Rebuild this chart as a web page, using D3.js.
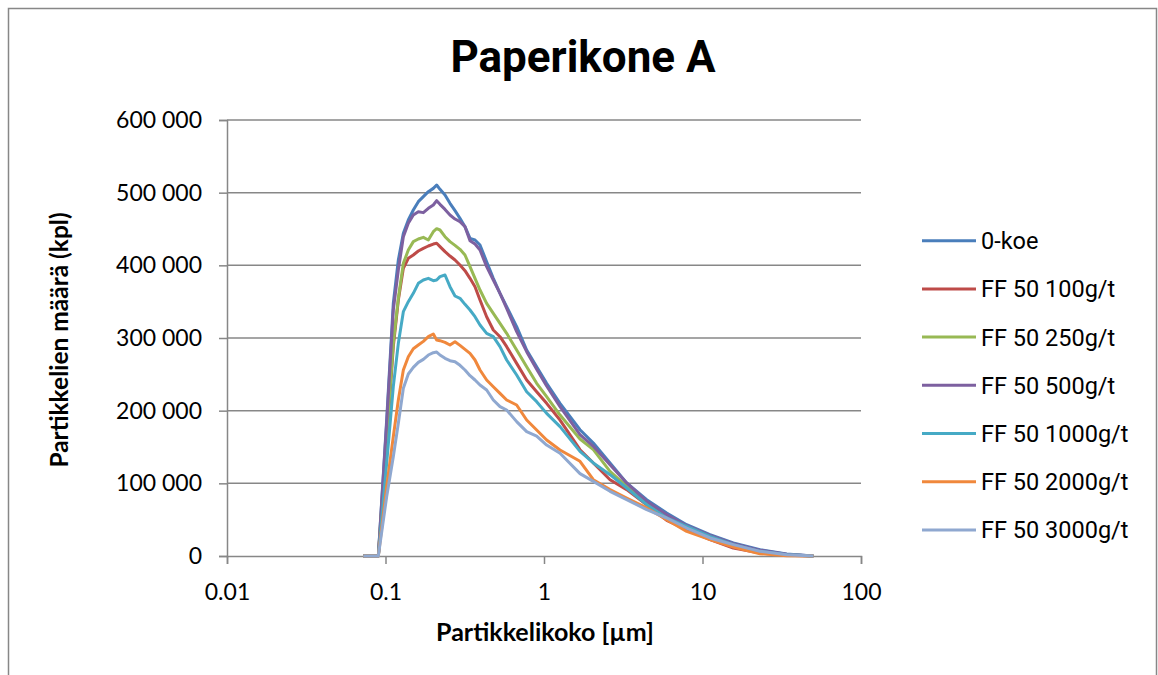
<!DOCTYPE html>
<html>
<head>
<meta charset="utf-8">
<script src="https://cdn.jsdelivr.net/npm/d3@7"></script>
<style>
  body { margin: 0; background: #fff; }
  text { fill: #000; }
</style>
</head>
<body>
<script>
// particle size (um), shared by all series
var sizes = [0.0725, 0.0901, 0.1017, 0.1120, 0.1205, 0.1296, 0.1393, 0.1498, 0.1611, 0.1733,
  0.1863, 0.2003, 0.2103, 0.2207, 0.2374, 0.2552, 0.2745, 0.2951, 0.3173, 0.3413,
  0.3670, 0.3947, 0.4346, 0.4788, 0.5277, 0.5814, 0.6722, 0.7773, 0.8989, 1.039,
  1.262, 1.687, 2.048, 2.609, 3.323, 4.444, 5.943, 7.947, 11.15, 15.65,
  23.06, 33.96, 50.04];

// counts in thousands
var koe0 = [0,0,187.1,347.7,407.3,444.0,462.4,476.1,487.6,494.5,501.4,505.9,510.5,504.6,496.8,485.3,475.2,464.7,453.2,437.1,434.9,428.0,405.0,382.1,361.5,343.1,315.6,283.5,260.5,237.6,210.1,173.8,155.5,128.0,100.5,77.5,59.2,43.1,29.4,17.9,8.7,2.8,0];
var ff100 = [0,0,155.0,288.1,352.3,395.9,409.6,414.2,419.7,423.4,426.6,429.3,430.3,425.7,418.8,412.8,407.3,400.4,392.7,382.1,370.6,352.3,329.3,311.0,301.8,288.1,265.1,242.2,226.1,210.1,187.1,146.3,128.0,105.0,91.3,70.6,49.1,36.2,22.5,11.0,4.1,0.9,0];
var ff250 = [0,0,164.2,292.7,354.6,402.7,421.1,432.6,436.2,438.5,434.9,446.3,450.4,448.6,439.4,432.6,427.5,422.0,414.2,398.2,382.1,366.0,347.7,333.9,320.2,306.4,283.5,260.5,237.6,219.3,194.0,161.0,146.3,116.5,95.9,72.9,54.6,40.8,27.1,15.6,6.4,1.8,0];
var ff500 = [0,0,182.6,338.5,393.6,439.4,457.8,469.3,473.8,472.5,478.4,483.0,489.0,483.9,477.0,469.3,463.7,460.1,453.2,433.9,429.3,421.1,398.2,379.8,361.5,340.8,308.7,281.2,256.9,233.9,205.5,167.0,150.9,125.7,100.5,75.2,56.9,41.7,28.4,17.0,7.8,2.3,0];
var ff1000 = [0,0,127.5,233.0,292.7,336.2,350.0,361.5,375.2,379.8,382.1,378.9,379.8,384.4,386.7,370.6,357.8,354.6,346.3,338.5,329.3,317.9,306.4,301.8,288.1,269.7,249.1,226.1,212.4,196.3,178.0,144.0,128.0,111.9,93.6,70.6,52.3,40.8,27.1,15.6,6.4,1.8,0];
var ff2000 = [0,0,95.4,164.2,214.7,256.0,274.3,285.3,290.4,295.4,301.8,305.5,297.2,296.3,294.0,290.4,294.9,289.9,284.4,278.9,269.7,256.0,242.2,233.0,223.8,214.7,207.8,187.1,173.4,159.6,145.9,130.3,105.0,91.3,79.8,66.1,50.0,33.9,22.5,12.4,3.2,0.5,0];
var ff3000 = [0,0,81.6,136.7,182.6,230.7,250.5,259.6,266.5,270.6,276.6,279.8,280.7,276.6,272.0,268.8,267.4,262.4,256.0,248.2,242.2,235.3,228.4,214.7,205.5,200.9,184.9,171.1,165.1,152.7,141.3,113.3,102.7,89.0,77.5,63.8,52.3,38.5,24.8,15.6,6.4,1.8,0];

var names = ["0-koe", "FF 50 100g/t", "FF 50 250g/t", "FF 50 500g/t", "FF 50 1000g/t", "FF 50 2000g/t", "FF 50 3000g/t"];
var colors = ["#4a7ebb", "#be4b48", "#98b954", "#7d60a0", "#46aac5", "#f0883c", "#8fa8d0"];
var xTicks = [0.01, 0.1, 1, 10, 100];
var yTicks = [0, 100000, 200000, 300000, 400000, 500000, 600000];

var allSeries = [koe0, ff100, ff250, ff500, ff1000, ff2000, ff3000];

var W = 1158, H = 675;
var svg = d3.select("body").append("svg").attr("width", W).attr("height", H);

// outer chart frame
svg.append("rect").attr("x", 8.5).attr("y", 8.5).attr("width", 1148).attr("height", 720)
  .attr("fill", "#fff").attr("stroke", "#878787").attr("stroke-width", 1.5);

var pLeft = 227, pRight = 861, pTop = 120, pBottom = 556;

var x = d3.scaleLog().domain([0.01, 100]).range([pLeft, pRight]);
var y = d3.scaleLinear().domain([0, 600000]).range([pBottom, pTop]);

var fmt = d3.formatLocale({decimal: ".", thousands: " ", grouping: [3], currency: ["", ""]}).format(",");

// gridlines
svg.append("g").selectAll("line").data(yTicks.slice(1)).enter().append("line")
  .attr("x1", pLeft).attr("x2", pRight)
  .attr("y1", function(d) { return y(d); }).attr("y2", function(d) { return y(d); })
  .attr("stroke", "#878787").attr("stroke-width", 1.5);

// y axis
var gy = svg.append("g").attr("transform", "translate(" + pLeft + ",0)")
  .call(d3.axisLeft(y).tickValues(yTicks).tickFormat(fmt).tickSize(8).tickPadding(17));
gy.select(".domain").attr("stroke", "#878787").attr("stroke-width", 1.5);
gy.selectAll(".tick line").attr("stroke", "#878787").attr("stroke-width", 1.5);
gy.selectAll("text").style("font-family", "Lato, 'Open Sans', sans-serif").style("font-size", "23px").attr("fill", "#000");

// x axis
var gx = svg.append("g").attr("transform", "translate(0," + pBottom + ")")
  .call(d3.axisBottom(x).tickValues(xTicks).tickFormat(function(d) { return String(d); }).tickSize(8));
gx.select(".domain").attr("stroke", "#878787").attr("stroke-width", 1.5);
gx.selectAll(".tick line").attr("stroke", "#878787").attr("stroke-width", 1.5);
gx.selectAll("text").attr("y", 44).attr("dy", 0)
  .style("font-family", "Lato, 'Open Sans', sans-serif").style("font-size", "23px").attr("fill", "#000");

// series lines, last on top
var line = d3.line()
  .x(function(d) { return x(d[0]); })
  .y(function(d) { return y(d[1] * 1000); });

allSeries.forEach(function(s, i) {
  var pts = sizes.map(function(v, j) { return [v, s[j]]; });
  svg.append("path").datum(pts)
    .attr("d", line)
    .attr("fill", "none")
    .attr("stroke", colors[i])
    .attr("stroke-width", 3)
    .attr("stroke-linejoin", "round");
});

// title
svg.append("text").attr("x", 583).attr("y", 72).attr("text-anchor", "middle")
  .style("font-family", "Roboto, sans-serif").style("font-weight", "bold").style("font-size", "44px")
  .text("Paperikone A");

// axis titles
svg.append("text").attr("x", 545).attr("y", 641).attr("text-anchor", "middle")
  .style("font-family", "Lato, 'Open Sans', sans-serif").style("font-weight", "bold").style("font-size", "25px")
  .text("Partikkelikoko [µm]");

svg.append("text").attr("transform", "translate(68,340) rotate(-90)").attr("text-anchor", "middle")
  .style("font-family", "Lato, 'Open Sans', sans-serif").style("font-weight", "bold").style("font-size", "24.5px")
  .text("Partikkelien määrä (kpl)");

// legend
var lg = svg.append("g").selectAll("g").data(names).enter().append("g")
  .attr("transform", function(d, i) { return "translate(922," + (240.7 + i * 48.2) + ")"; });
lg.append("line").attr("x1", 0).attr("x2", 54).attr("y1", 0).attr("y2", 0)
  .attr("stroke", function(d, i) { return colors[i]; }).attr("stroke-width", 3);
lg.append("text").attr("x", 59).attr("y", 8.5)
  .style("font-family", "Roboto, sans-serif").style("font-size", "23.5px")
  .text(function(d) { return d; });
</script>
</body>
</html>
